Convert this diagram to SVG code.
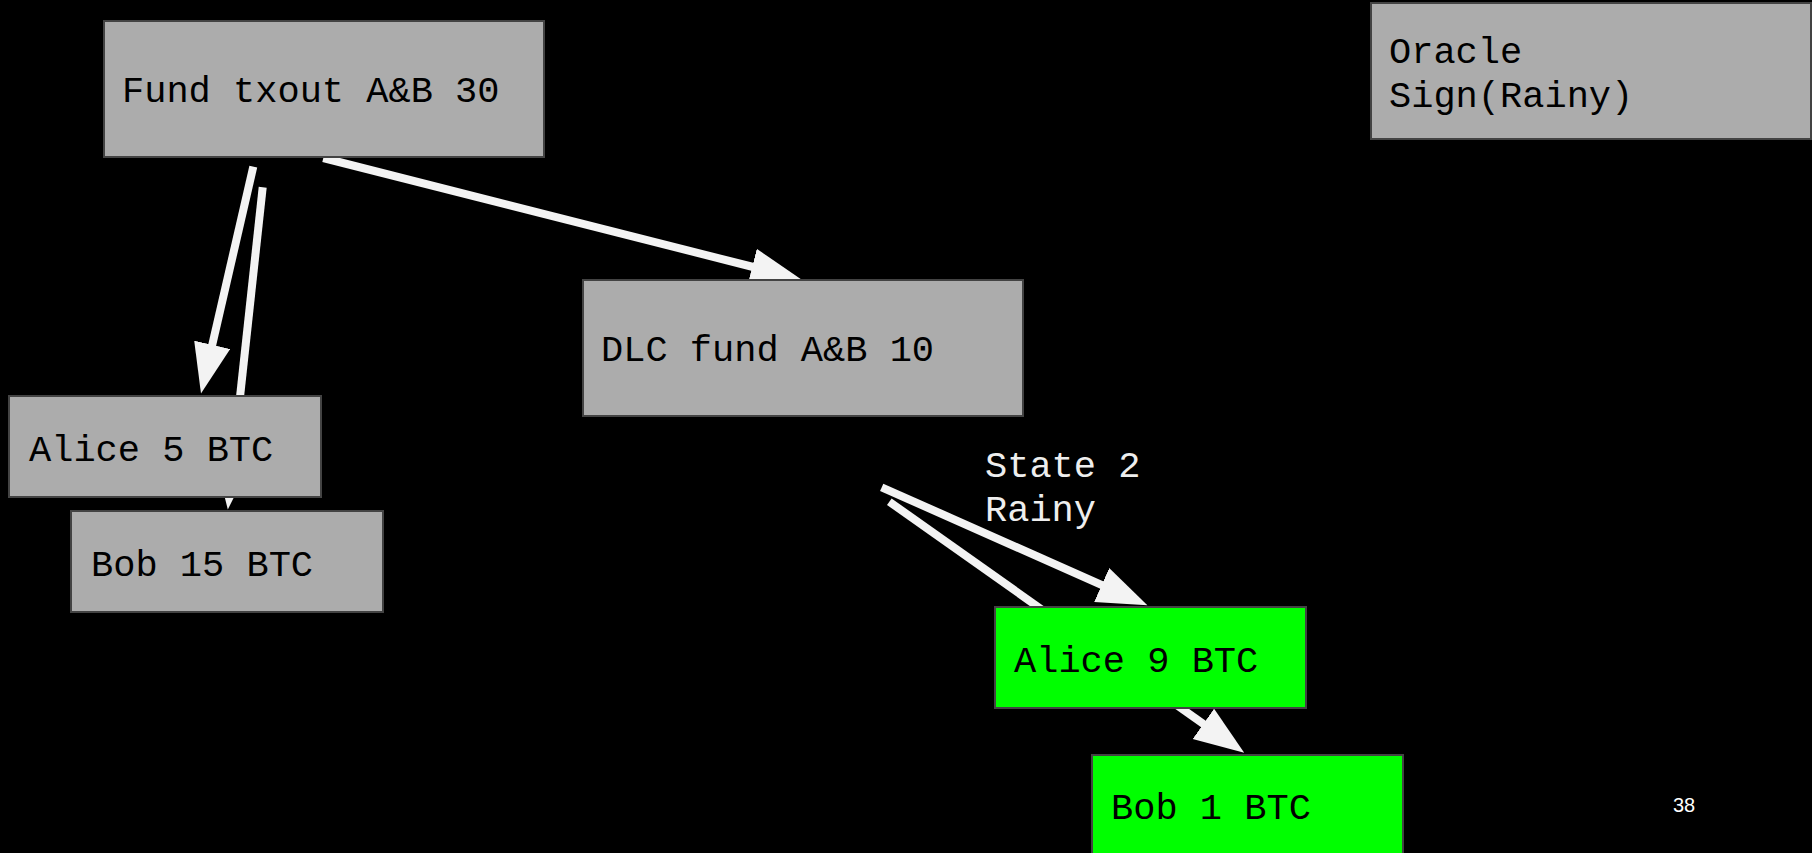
<svg xmlns="http://www.w3.org/2000/svg" width="1812" height="853" viewBox="0 0 1812 853">
  <style>
    .box { fill: #acacac; stroke: #434343; stroke-width: 2; }
    .green { fill: #00ff00; stroke: #434343; stroke-width: 2; }
    .t { font-family: "Liberation Mono", "DejaVu Sans Mono", monospace; font-size: 37px; fill: #000000; }
    .lbl { font-family: "Liberation Mono", "DejaVu Sans Mono", monospace; font-size: 37px; fill: #eeeeee; }
    .edge { stroke: #f3f3f3; stroke-width: 8; fill: none; marker-end: url(#head); }
    .pg { font-family: "Liberation Sans", Arial, sans-serif; font-size: 20px; fill: #ffffff; }
  </style>
  <defs>
    <marker id="head" markerUnits="userSpaceOnUse" markerWidth="52" markerHeight="38" refX="1" refY="18.5" orient="auto">
      <path d="M0,0 L50,18.5 L0,37 z" fill="#f3f3f3"/>
    </marker>
  </defs>
  <rect x="0" y="0" width="1812" height="853" fill="#000000"/>

  <g id="connectors">
    <path class="edge" d="M253.3,166.7 L212,345.8"/>
    <path class="edge" d="M262.7,187.3 L233.1,460.8"/>
    <path class="edge" d="M323.3,158 L753.2,267"/>
    <path class="edge" d="M881.7,487.3 L1102.6,585.4"/>
    <path class="edge" d="M889.3,501.7 L1204.2,724.4"/>
  </g>

  <g id="fund">
    <rect class="box" x="104" y="21" width="440" height="136"/>
    <text class="t" x="122" y="102">Fund txout A&amp;B 30</text>
  </g>
  <g id="oracle">
    <rect class="box" x="1371" y="3" width="440" height="136"/>
    <text class="t" x="1389" y="63">Oracle</text>
    <text class="t" x="1389" y="107">Sign(Rainy)</text>
  </g>
  <g id="alice5">
    <rect class="box" x="9" y="396" width="312" height="101"/>
    <text class="t" x="29" y="461">Alice 5 BTC</text>
  </g>
  <g id="bob15">
    <rect class="box" x="71" y="511" width="312" height="101"/>
    <text class="t" x="91" y="576">Bob 15 BTC</text>
  </g>
  <g id="dlc">
    <rect class="box" x="583" y="280" width="440" height="136"/>
    <text class="t" x="601" y="361">DLC fund A&amp;B 10</text>
  </g>
  <g id="state-label">
    <text class="lbl" x="985" y="477">State 2</text>
    <text class="lbl" x="985" y="521">Rainy</text>
  </g>
  <g id="alice9">
    <rect class="green" x="995" y="607" width="311" height="101"/>
    <text class="t" x="1014" y="672">Alice 9 BTC</text>
  </g>
  <g id="bob1">
    <rect class="green" x="1092" y="755" width="311" height="101"/>
    <text class="t" x="1111" y="819">Bob 1 BTC</text>
  </g>
  <text class="pg" x="1673" y="812">38</text>
</svg>
